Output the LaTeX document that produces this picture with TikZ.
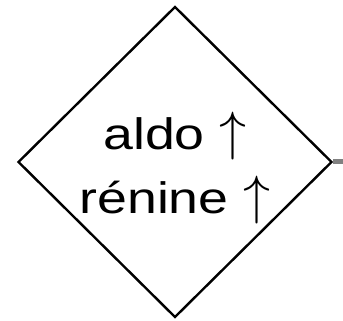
\documentclass[tikz,border=0pt]{standalone}
\usepackage{fix-cm}
\usepackage{fontspec}
\setmainfont{Liberation Sans}
\newfontfamily\widefont[FakeStretch=1.22]{Liberation Sans}
\usepackage{xcolor}
\usetikzlibrary{shapes.geometric}
\definecolor{StubGray}{HTML}{808080}

\begin{document}
\begin{tikzpicture}[x=1pt,y=1pt]
    \useasboundingbox (0,0) rectangle (343,321);
    \node[
      diamond,
      draw=black,
      line width=2.4pt,
      inner sep=0pt,
      minimum width=314pt,
      minimum height=311pt
    ] (hormones) at (175,159) {};
    \node[
      align=center,
      inner sep=0pt,
      font=\fontsize{44}{64}\selectfont\widefont
    ] (label) at (175,152.5) {aldo {\fontsize{54}{64}\selectfont$\uparrow$}\\%
      rénine {\fontsize{54}{64}\selectfont$\uparrow$}};
    \coordinate (stubend) at (343,159);
    \draw[StubGray, line width=5pt] (hormones.east) -- (stubend);
  \end{tikzpicture}
\end{document}
